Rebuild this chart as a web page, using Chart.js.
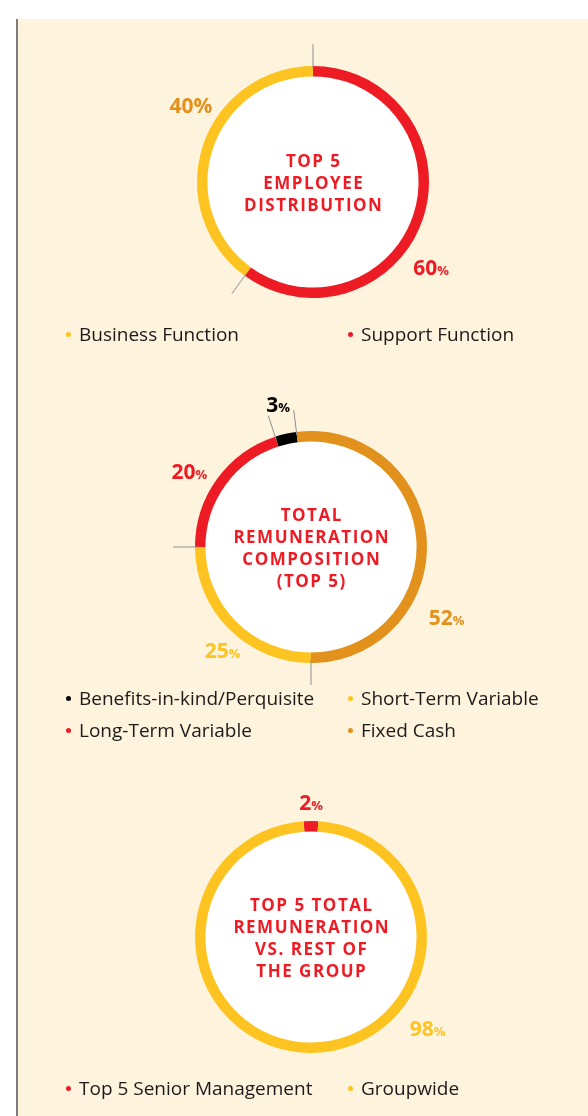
<!DOCTYPE html>
<html>
<head>
<meta charset="utf-8">
<script src="https://cdn.jsdelivr.net/npm/chart.js@4"></script>
<style>
  body { margin: 0; width: 588px; height: 1116px; overflow: hidden; background: #fff; font-family: "Open Sans", sans-serif; }
  #panel { position: absolute; left: 16px; top: 19px; width: 572px; height: 1097px; background: #fef3dd; border-left: 2px solid #7d7d7d; }
  canvas { position: absolute; }
  .legend { position: absolute; left: 66px; display: grid; grid-template-columns: 282px auto; grid-auto-rows: 32px; font-size: 19px; color: #1d1a1a; }
  .legend div { display: flex; align-items: center; white-space: nowrap; }
  .legend span.dot { display: inline-block; width: 5px; height: 5px; border-radius: 50%; margin-right: 8px; }
</style>
</head>
<body>
<div id="panel"></div>

<canvas id="chart-employee" width="400" height="320" style="left:113px;top:22px"></canvas>
<div class="legend" id="legend-employee" style="top:318px"></div>

<canvas id="chart-remun" width="400" height="320" style="left:111px;top:387px"></canvas>
<div class="legend" id="legend-remun" style="top:682px"></div>

<canvas id="chart-group" width="400" height="320" style="left:111px;top:777px"></canvas>
<div class="legend" id="legend-group" style="top:1072px"></div>

<script>
// --- Data ---
// Top 5 employee distribution
const employeeCategories = ['Business Function', 'Support Function'];
const employeeValues = [40, 60];

// Total remuneration composition (top 5)
const remunCategories = ['Benefits-in-kind/Perquisite', 'Short-Term Variable', 'Long-Term Variable', 'Fixed Cash'];
const remunValues = [3, 25, 20, 52];

// Top 5 total remuneration vs rest of the group
const groupCategories = ['Top 5 Senior Management', 'Groupwide'];
const groupValues = [2, 98];

// --- Colours ---
const RED = '#ed1c24';
const YELLOW = '#fdc421';
const ORANGE = '#e2911c';
const BLACK = '#000000';
const LINE_GREY = '#8f8f8f';

// Draws white hole, leader lines, % labels and the title inside the ring
function makeDecor(decor) {
  return {
    id: 'ringDecor',
    beforeDatasetsDraw(chart) {
      const arc = chart.getDatasetMeta(0).data[0];
      const ctx = chart.ctx;
      ctx.save();
      ctx.fillStyle = '#ffffff';
      ctx.beginPath();
      ctx.arc(arc.x, arc.y, arc.innerRadius + 1, 0, Math.PI * 2);
      ctx.fill();
      ctx.restore();
    },
    afterDatasetsDraw(chart) {
      const meta = chart.getDatasetMeta(0);
      const ctx = chart.ctx;
      const cx = meta.data[0].x;
      const cy = meta.data[0].y;
      const r = meta.data[0].outerRadius;
      ctx.save();

      // leader lines on the segment boundaries
      if (decor.leaders) {
        ctx.strokeStyle = LINE_GREY;
        ctx.lineWidth = 1;
        meta.data.forEach(a => {
          const ang = a.startAngle;
          ctx.beginPath();
          ctx.moveTo(cx + Math.cos(ang) * (r - 3), cy + Math.sin(ang) * (r - 3));
          ctx.lineTo(cx + Math.cos(ang) * (r + 22), cy + Math.sin(ang) * (r + 22));
          ctx.stroke();
        });
      }

      // percentage labels
      decor.values.forEach((v, i) => {
        const [deg, dist] = decor.labelPos[i];
        const t = deg * Math.PI / 180;
        const px = cx + Math.sin(t) * dist;
        const py = cy - Math.cos(t) * dist;
        const numFont = 'bold 21px "Open Sans"';
        const pctFont = decor.bigPct && decor.bigPct[i] ? 'bold 21px "Open Sans"' : 'bold 13px "Open Sans"';
        ctx.font = numFont;
        const nw = ctx.measureText(String(v)).width;
        ctx.font = pctFont;
        const pw = ctx.measureText('%').width;
        const x0 = px - (nw + pw) / 2;
        ctx.fillStyle = decor.labelColors[i];
        ctx.textAlign = 'left';
        ctx.textBaseline = 'alphabetic';
        ctx.font = numFont;
        ctx.fillText(String(v), x0, py + 7.5);
        ctx.font = pctFont;
        ctx.fillText('%', x0 + nw, py + 7.5);
      });

      // title in the middle
      ctx.fillStyle = RED;
      ctx.font = 'bold 17px "Open Sans"';
      ctx.textAlign = 'center';
      ctx.textBaseline = 'alphabetic';
      if ('letterSpacing' in ctx) ctx.letterSpacing = '1.5px';
      const lh = 22;
      const top = cy - (decor.title.length - 1) * lh / 2;
      decor.title.forEach((line, i) => {
        ctx.fillText(line, cx + 0.75, top + i * lh + 6.5);
      });
      ctx.restore();
    }
  };
}

function makeDonut(canvasId, categories, values, colors, ringOrder, decor) {
  const order = ringOrder || categories.map((_, i) => i);
  decor.values = values;
  return new Chart(document.getElementById(canvasId), {
    type: 'doughnut',
    data: {
      labels: order.map(i => categories[i]),
      datasets: [{
        data: order.map(i => values[i]),
        backgroundColor: order.map(i => colors[i]),
        borderWidth: 0,
        hoverOffset: 0
      }]
    },
    options: {
      responsive: false,
      animation: false,
      events: [],
      radius: 116,
      cutout: '91%',
      rotation: decor.rotation,
      layout: { padding: 0 },
      plugins: {
        legend: { display: false },
        tooltip: { enabled: false }
      }
    },
    plugins: [makeDecor(decor)]
  });
}

// HTML legend, two columns
function makeLegend(elemId, categories, colors) {
  const el = document.getElementById(elemId);
  categories.forEach((name, i) => {
    const item = document.createElement('div');
    const dot = document.createElement('span');
    dot.className = 'dot';
    dot.style.background = colors[i];
    item.appendChild(dot);
    item.appendChild(document.createTextNode(name));
    el.appendChild(item);
  });
}

const employeeColors = [YELLOW, RED];
makeDonut('chart-employee', employeeCategories, employeeValues, employeeColors, null, {
  rotation: 216,
  leaders: true,
  labelPos: [[302, 144], [126, 146]],
  labelColors: [ORANGE, RED],
  bigPct: [true, false],
  title: ['TOP 5', 'EMPLOYEE', 'DISTRIBUTION']
});
makeLegend('legend-employee', employeeCategories, employeeColors);

const remunColors = [BLACK, YELLOW, RED, ORANGE];
// clockwise from the top: benefits, fixed cash, short-term, long-term
makeDonut('chart-remun', remunCategories, remunValues, remunColors, [0, 3, 1, 2], {
  rotation: -18,
  leaders: true,
  labelPos: [[-13, 146], [220.5, 136], [301.7, 143], [117.6, 153]],
  labelColors: [BLACK, YELLOW, RED, ORANGE],
  title: ['TOTAL', 'REMUNERATION', 'COMPOSITION', '(TOP 5)']
});
makeLegend('legend-remun', remunCategories, remunColors);

const groupColors = [RED, YELLOW];
makeDonut('chart-group', groupCategories, groupValues, groupColors, null, {
  rotation: -3.6,
  leaders: false,
  labelPos: [[0, 135], [128, 148]],
  labelColors: [RED, YELLOW],
  title: ['TOP 5 TOTAL', 'REMUNERATION', 'VS. REST OF', 'THE GROUP']
});
makeLegend('legend-group', groupCategories, groupColors);
</script>
</body>
</html>
